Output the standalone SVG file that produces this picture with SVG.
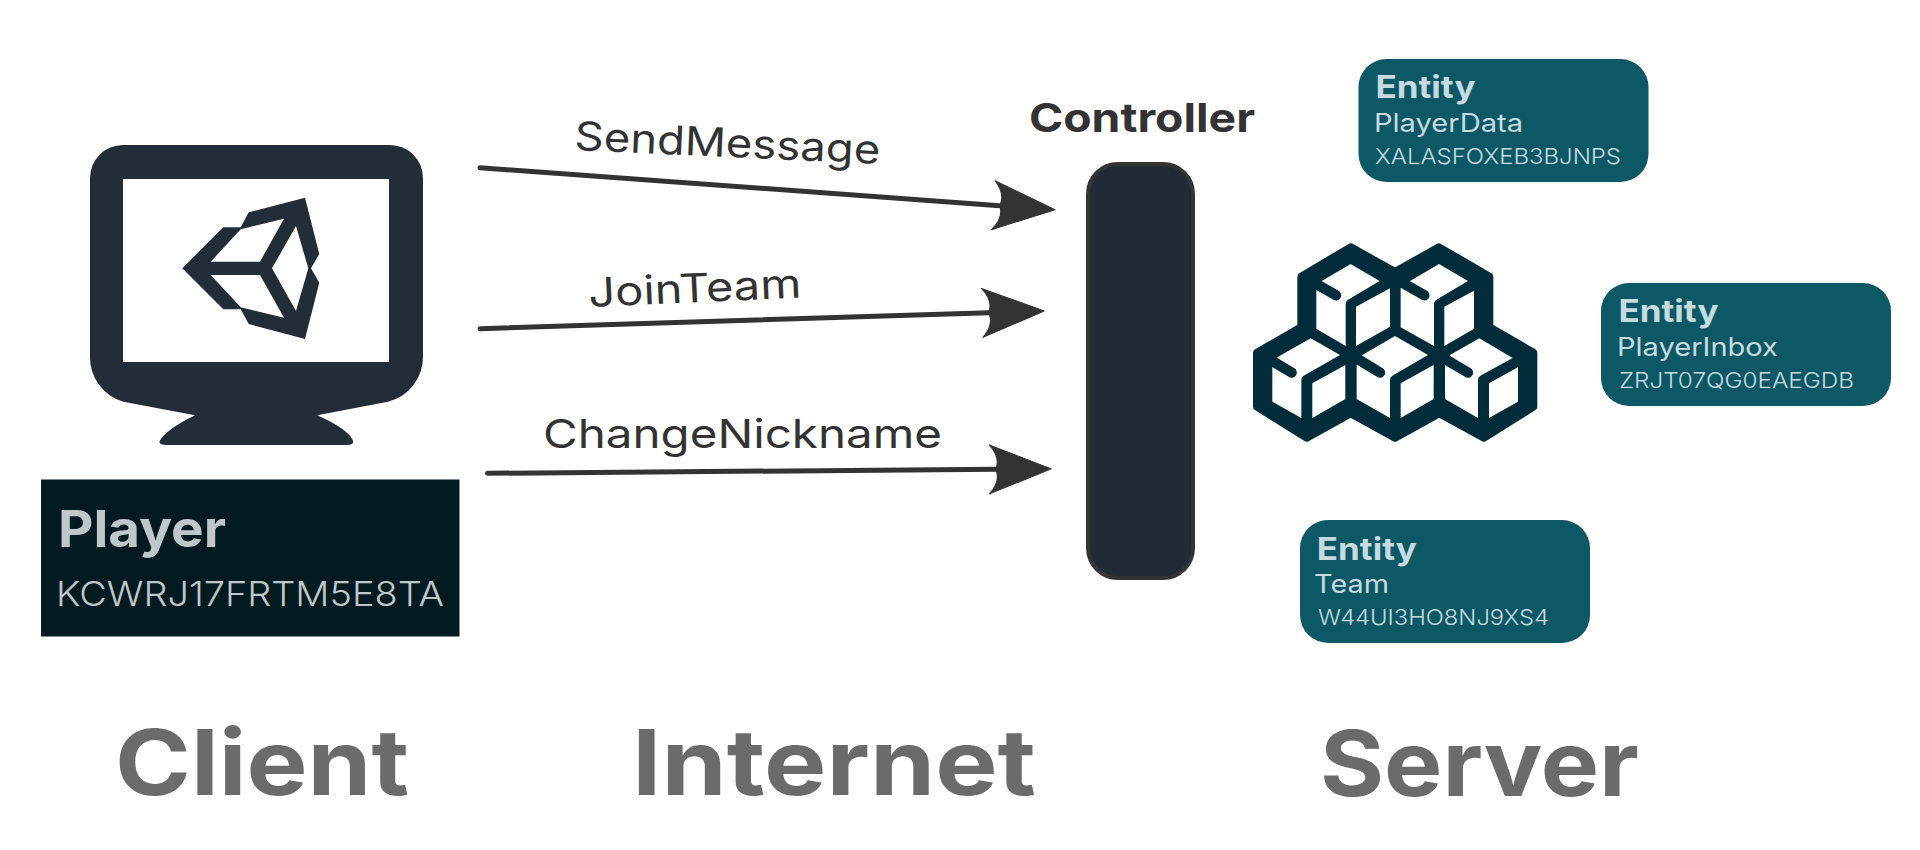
<svg xmlns="http://www.w3.org/2000/svg" width="1920" height="850" viewBox="0 0 1920 850">
<style>
text{font-family:Inter,"Liberation Sans",sans-serif}
.big{font-size:91px;font-weight:700;fill:#6b6b6b}
.lbl{font-size:40px;font-weight:400;fill:#333}
.arrow{fill:none;stroke:#333;stroke-width:5;stroke-linecap:round}
.ent{fill:#0d5865}
.e1{font-size:31px;font-weight:700;fill:#c5dbe0}
.e2{font-size:25px;font-weight:400;fill:#c5dbe0}
.e3{font-size:22px;font-weight:300;fill:#c5dbe0}
</style>
<defs>
<marker id="head" markerUnits="userSpaceOnUse" markerWidth="80" markerHeight="60" viewBox="-12 -30 80 60" refX="0" refY="0" orient="auto">
<path d="M55.5 0L-6.5 -24.5Q5 -12 0 0Q5 12 -6.5 24.5Z" fill="#333" stroke="#333" stroke-width="1" stroke-linejoin="round"/>
</marker>
</defs>
<rect width="1920" height="850" fill="#fff"/>
<g id="client-monitor">
<path fill="#222d38" fill-rule="evenodd" d="M90 178A33 33 0 0 1 123 145H390A33 33 0 0 1 423 178V356A46 46 0 0 1 388 401.7L317.3 415.3Q350 430 353.3 441.7Q353 445 346.7 445H166.7Q160 445 159.3 441.7Q165 430 195 415.3L123.3 401.7A46 46 0 0 1 90 356ZM123 179V362H389V179Z"/>
<path fill="#222d38" fill-rule="evenodd" d="M182.3 268.3L223.3 227.3H240.7L248.7 212.3L305 197.7L319.3 254L311 268.3L319.3 282.7L305 339L248.7 324L240.7 309.3H223.3ZM210.7 261.7H260L284 218.7L240.7 229.3ZM210.7 275L240.7 307.3L284 317.7L260 275ZM272 268.3L296 311L308.3 268.3L296 226Z"/>
</g>
<g id="player">
<rect x="41" y="479.5" width="418.5" height="157" fill="#021a20"/>
<text x="58" y="547.3" font-size="51" font-weight="700" fill="#c0c6c9" textLength="168" lengthAdjust="spacingAndGlyphs">Player</text>
<text x="56" y="606" font-size="34.5" font-weight="300" fill="#c0c6c9" textLength="388" lengthAdjust="spacingAndGlyphs">KCWRJ17FRTM5E8TA</text>
</g>
<g id="connectors">
<path class="arrow" d="M480 167.7L999.7 205.7" marker-end="url(#head)"/>
<path class="arrow" d="M480 328.7L988.7 312.7" marker-end="url(#head)"/>
<path class="arrow" d="M487.5 473.3L995.8 469.3" marker-end="url(#head)"/>
<text class="lbl" transform="translate(574 150) rotate(2.6)" textLength="306" lengthAdjust="spacingAndGlyphs">SendMessage</text>
<text class="lbl" transform="translate(589 307) rotate(-2.6)" textLength="213" lengthAdjust="spacingAndGlyphs">JoinTeam</text>
<text class="lbl" x="543" y="447.7" textLength="399" lengthAdjust="spacingAndGlyphs">ChangeNickname</text>
</g>
<g id="controller">
<text x="1029" y="132.3" font-size="40" font-weight="700" fill="#333" textLength="226" lengthAdjust="spacingAndGlyphs">Controller</text>
<rect x="1088" y="164" width="105" height="414" rx="30" fill="#222b35" stroke="#333" stroke-width="4"/>
</g>
<g id="cubes" transform="translate(1230 220) scale(0.33333)">
<path fill="#032c3b" stroke="#032c3b" stroke-width="24" stroke-linejoin="round" fill-rule="evenodd" d="M362 82L495 156L627 82L778 170V322L910 398V560L762 653L628 580L495 653L362 580L230 653L81 560V398L214 322V170Z"/>
<g fill="#fff">
<path d="M275 183L362 132L449 183L358 237Q347 243 347 252V378L259 326V212Z"/>
<path d="M378 260L480 205V320L378 378Z"/>
<path d="M540 183L627 132L714 183L623 237Q612 243 612 252V378L512 322V205Z"/>
<path d="M643 260L732 212V326L643 378Z"/>
<path d="M143 411L242 355L330 405L225 465Q214 471 214 480V594L127 545V442Z"/>
<path d="M247 490L346 435V537L247 594Z"/>
<path d="M397 405L495 348L594 405L491 465Q480 471 480 480V594L380 537V435Z"/>
<path d="M512 490L611 435V537L512 594Z"/>
<path d="M660 405L748 355L848 414L755 465Q744 471 744 480V594L645 537V435Z"/>
<path d="M777 490L864 442V545L777 594Z"/>
</g>
<path fill="none" stroke="#032c3b" stroke-width="31" stroke-linecap="round" d="M255 190L318 226M520 190L583 226M122 420L185 458M388 420L450 458M650 420L714 458"/>
</g>
<g id="entity-playerdata">
<rect class="ent" x="1358.5" y="59" width="290" height="123" rx="28"/>
<text class="e1" x="1375.5" y="98.3" textLength="100" lengthAdjust="spacingAndGlyphs">Entity</text>
<text class="e2" x="1374" y="132.3" textLength="149" lengthAdjust="spacingAndGlyphs">PlayerData</text>
<text class="e3" x="1375" y="164.3" textLength="246" lengthAdjust="spacingAndGlyphs">XALASFOXEB3BJNPS</text>
</g>
<g id="entity-playerinbox">
<rect class="ent" x="1601" y="283" width="290" height="123" rx="28"/>
<text class="e1" x="1618.5" y="322.3" textLength="100" lengthAdjust="spacingAndGlyphs">Entity</text>
<text class="e2" x="1617" y="356.3" textLength="161" lengthAdjust="spacingAndGlyphs">PlayerInbox</text>
<text class="e3" x="1619" y="388.3" textLength="235" lengthAdjust="spacingAndGlyphs">ZRJT07QG0EAEGDB</text>
</g>
<g id="entity-team">
<rect class="ent" x="1300" y="520" width="290" height="123" rx="28"/>
<text class="e1" x="1316.8" y="560" textLength="100" lengthAdjust="spacingAndGlyphs">Entity</text>
<text class="e2" x="1314" y="593.3" textLength="75" lengthAdjust="spacingAndGlyphs">Team</text>
<text class="e3" x="1318" y="625" textLength="231" lengthAdjust="spacingAndGlyphs">W44UI3HO8NJ9XS4</text>
</g>
<g id="titles">
<text class="big" x="115" y="795" textLength="294" lengthAdjust="spacingAndGlyphs">Client</text>
<text class="big" x="632" y="795" textLength="404" lengthAdjust="spacingAndGlyphs">Internet</text>
<text class="big" x="1320" y="796" textLength="319" lengthAdjust="spacingAndGlyphs">Server</text>
</g>
</svg>
